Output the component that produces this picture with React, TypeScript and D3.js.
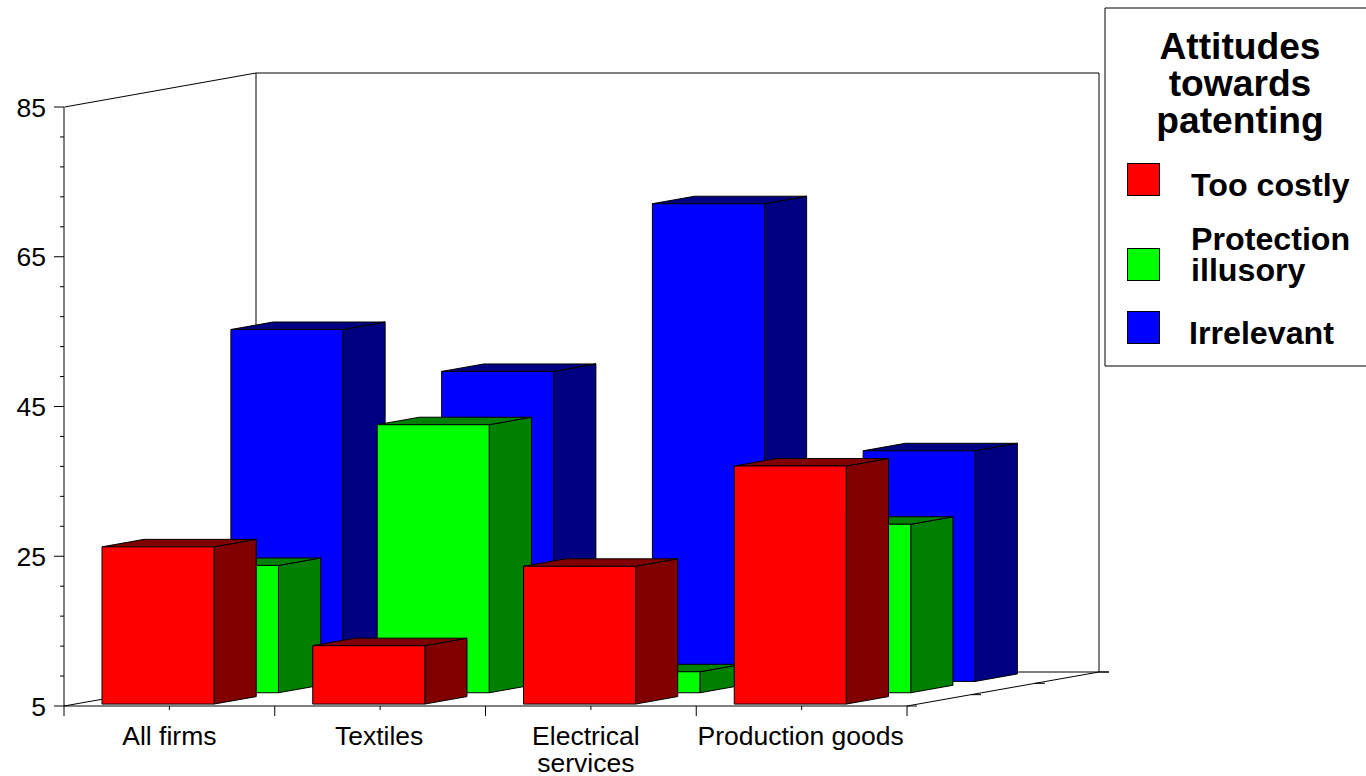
import React from "react";
import * as d3 from "d3";

const categories = ["All firms", "Textiles", "Electrical services", "Production goods"];
const categoryLines = [["All firms"], ["Textiles"], ["Electrical", "services"], ["Production goods"]];
const tooCostly = [26, 12.8, 23.4, 36.8];
const protectionIllusory = [22, 40.8, 7.8, 27.5];
const irrelevant = [52, 46.4, 68.8, 35.8];
const seriesNames = ["Too costly", "Protection illusory", "Irrelevant"];
const seriesValues = [tooCostly, protectionIllusory, irrelevant];
const frontColors = ["#ff0000", "#00ff00", "#0000ff"];
const sideColors = ["#800000", "#008000", "#000080"];
const majorTicks = [5, 25, 45, 65, 85];
const minorTicks = d3.range(5, 85, 4).filter((v) => !majorTicks.includes(v));

const FONT = "'Liberation Sans', Arial, sans-serif";

const y = d3.scaleLinear().domain([5, 85]).range([706, 107]);
const x = d3.scaleBand().domain(categories).range([64, 907]);
const rowX = d3.scaleLinear().domain([0, 3]).range([0, 192]);
const rowY = d3.scaleLinear().domain([0, 3]).range([0, -34]);

const barInset = 38;
const barWidth = 112;
const barDepth = 0.66;
const frontShift = 0.05;
const rowNudge = 0.45;

function Bar({ cat, row, value }: { cat: string; row: number; value: number }) {
  const x0 = (x(cat) as number) + barInset + rowX(row) + row * rowNudge;
  const x1 = x0 + barWidth;
  const off = rowY(row + frontShift * 3.4);
  const bottom = y(5) + off;
  const top = y(value) + off;
  const dx = rowX(barDepth);
  const dy = rowY(barDepth);
  const pts = (p: number[][]) => p.map((q) => q.join(",")).join(" ");
  return (
    <g stroke="#000" strokeWidth={1} strokeLinejoin="round">
      <polygon
        points={pts([[x1, top], [x1 + dx, top + dy], [x1 + dx, bottom + dy], [x1, bottom]])}
        fill={sideColors[row]}
      />
      <polygon
        points={pts([[x0, top], [x0 + dx, top + dy], [x1 + dx, top + dy], [x1, top]])}
        fill={sideColors[row]}
      />
      <rect x={x0} y={top} width={barWidth} height={bottom - top} fill={frontColors[row]} />
    </g>
  );
}

function Walls() {
  const bx = rowX(3);
  const by = rowY(3);
  const left = x.range()[0];
  const right = x.range()[1];
  const fy = y(5);
  const ty = y(85);
  return (
    <g stroke="#000" fill="none" strokeWidth={1}>
      <line x1={left + 0.5} y1={ty} x2={left + bx} y2={ty + by} />
      <line x1={left} y1={fy} x2={left + bx} y2={fy + by} />
      <line x1={left + bx} y1={ty + by} x2={left + bx} y2={fy + by} />
      <line x1={left + bx} y1={ty + by} x2={right + bx} y2={ty + by} />
      <line x1={right + bx} y1={ty + by} x2={right + bx} y2={fy + by} />
      <line x1={left + bx} y1={fy + by} x2={right + bx + 10} y2={fy + by} />
      <line x1={right} y1={fy} x2={right + bx} y2={fy + by} />
      {[0, 1, 2, 3].map((r) => (
        <line
          key={r}
          x1={right + rowX(r)}
          y1={fy + rowY(r)}
          x2={right + rowX(r) + 10}
          y2={fy + rowY(r)}
        />
      ))}
    </g>
  );
}

function Axes() {
  const left = x.range()[0];
  const right = x.range()[1];
  const step = x.step();
  return (
    <g fontFamily={FONT} fill="#000">
      <line x1={left} y1={y(85)} x2={left} y2={y(5) + 10} stroke="#000" />
      <line x1={left} y1={y(5)} x2={right} y2={y(5)} stroke="#000" />
      {majorTicks.map((t) => (
        <g key={t}>
          <line x1={left - 10} x2={left} y1={y(t)} y2={y(t)} stroke="#000" />
          <text x={46} y={y(t) + 9.5} fontSize={26.5} textAnchor="end" stroke="none">
            {t}
          </text>
        </g>
      ))}
      {minorTicks.map((t) => (
        <line key={t} x1={left - 4} x2={left} y1={y(t)} y2={y(t)} stroke="#000" />
      ))}
      {categories.map((c, i) => {
        const x0 = x(c) as number;
        return (
          <g key={c}>
            <line x1={x0 + step / 2} x2={x0 + step / 2} y1={y(5)} y2={y(5) + 4} stroke="#000" />
            <line x1={x0 + step} x2={x0 + step} y1={y(5)} y2={y(5) + 10} stroke="#000" />
            {categoryLines[i].map((l, j) => (
              <text
                key={l}
                x={x0 + step / 2 - (i === 2 ? 5 : i === 3 ? 1 : i === 1 ? 1 : 0)}
                y={745 + j * 27}
                fontSize={26.5}
                textAnchor="middle"
                stroke="none"
              >
                {l}
              </text>
            ))}
          </g>
        );
      })}
    </g>
  );
}

function Legend() {
  const swatchY = [163, 248, 311];
  const labels = [
    [{ t: "Too costly", x: 1191, y: 196 }],
    [
      { t: "Protection", x: 1191, y: 250 },
      { t: "illusory", x: 1191, y: 281 },
    ],
    [{ t: "Irrelevant", x: 1189, y: 344 }],
  ];
  const title = ["Attitudes", "towards", "patenting"];
  return (
    <g fontFamily={FONT} fontWeight="bold" fill="#000">
      <path d="M1366 8H1105V366H1366" fill="#fff" stroke="#000" />
      {title.map((t, i) => (
        <text key={t} x={1240} y={59 + i * 37} fontSize={37.2} textAnchor="middle">
          {t}
        </text>
      ))}
      {seriesNames.map((n, i) => (
        <g key={n}>
          <rect x={1127.5} y={swatchY[i] + 0.5} width={32} height={32} fill={frontColors[i]} stroke="#000" />
          {labels[i].map((l) => (
            <text key={l.t} x={l.x} y={l.y} fontSize={32.2}>
              {l.t}
            </text>
          ))}
        </g>
      ))}
    </g>
  );
}

export default function App() {
  const rows = [2, 1, 0];
  return (
    <svg
      width={1366}
      height={776}
      viewBox="0 0 1366 776"
      style={{ position: "absolute", left: 0, top: 0, background: "#fff" }}
    >
      <Walls />
      <Axes />
      {rows.map((r) =>
        categories.map((c, i) => <Bar key={`${r}-${c}`} cat={c} row={r} value={seriesValues[r][i]} />)
      )}
      <Legend />
    </svg>
  );
}
